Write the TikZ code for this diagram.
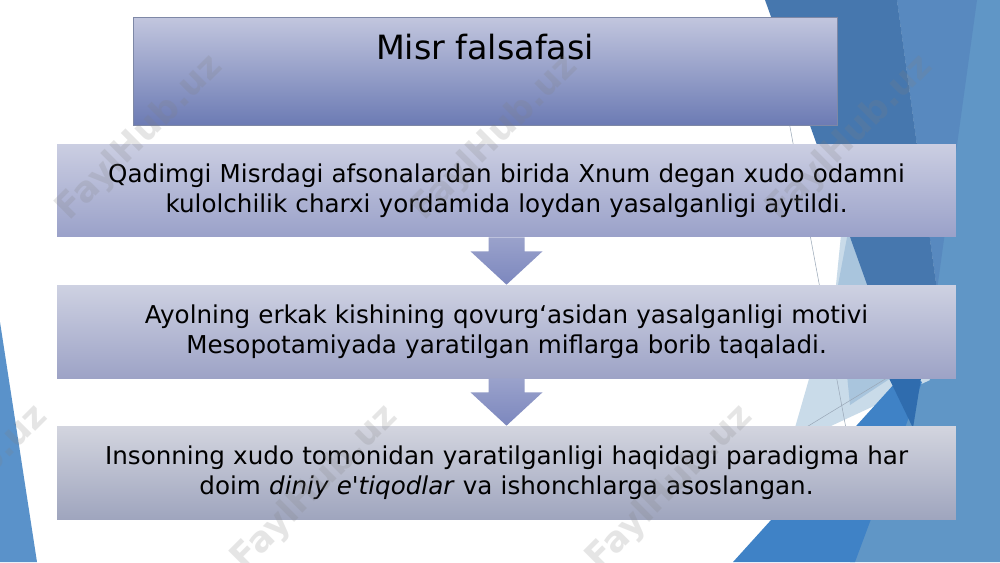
\documentclass[tikz,border=0pt]{standalone}
\usepackage{fontspec}
\setmainfont{DejaVu Sans}
\usetikzlibrary{calc}
\definecolor{dkblue}{HTML}{4677AE}
\definecolor{baseblue}{HTML}{6096C6}
\definecolor{vblue}{HTML}{5889BF}
\definecolor{brblue}{HTML}{3F82C6}
\definecolor{sblue}{HTML}{2F6CAE}
\definecolor{pale}{HTML}{C9DBE9}
\definecolor{midpale}{HTML}{A9C5DD}
\definecolor{leftblue}{HTML}{5A92CA}
\definecolor{thinline}{HTML}{9AA8B8}
\definecolor{ttop}{HTML}{C2C6DE}
\definecolor{tbot}{HTML}{6C7BB4}
\definecolor{tborder}{HTML}{7E88A6}
\definecolor{bAtop}{HTML}{CBCEE2}
\definecolor{bAbot}{HTML}{9AA1C9}
\definecolor{bBtop}{HTML}{CED1E2}
\definecolor{bBbot}{HTML}{9DA3C6}
\definecolor{bCtop}{HTML}{D3D5DF}
\definecolor{bCbot}{HTML}{9FA5BE}
\definecolor{atop}{HTML}{9AA2CB}
\definecolor{abot}{HTML}{7C87BE}
\tikzset{
  x=0.02cm, y=-0.02cm,
  bodyfont/.style={font=\fontsize{14}{17.07}\selectfont},
  stepbox/.style={rectangle, inner sep=0pt, minimum width=17.98cm, minimum height=1.86cm,
    text width=17.5cm, align=center, text=black, bodyfont},
  titlebox/.style={rectangle, draw=tborder, line width=0.5pt, inner sep=0pt,
    minimum width=14.08cm, minimum height=2.16cm, top color=ttop, bottom color=tbot},
  downarrow/.style={top color=atop, bottom color=abot},
  wm/.style={font=\bfseries\fontsize{20}{20}\selectfont, text=gray, opacity=0.2, rotate=45}
}
\begin{document}
\begin{tikzpicture}
\useasboundingbox (0,0) rectangle (1000,562);
\fill[white] (0,0) rectangle (1000,562);
% background decoration
\fill[baseblue] (897,0) -- (1000,0) -- (1000,562) -- (850,562) -- (922,380) -- (937,290) -- cycle;
\fill[vblue] (897,0) -- (977,0) -- (937,290) -- cycle;
\fill[pale] (843,215) -- (930,380) -- (790,445) -- (836,285) -- cycle;
\fill[midpale] (848,232) -- (900,372) -- (850,405) -- (838,285) -- cycle;
\fill[dkblue] (765,0) -- (897,0) -- (937,290) -- (912,410) -- cycle;
\fill[brblue] (733,562) -- (905,372) -- (922,382) -- (855,562) -- cycle;
\fill[sblue] (886,372) -- (922,372) -- (913,428) -- cycle;
\draw[thinline, line width=0.3pt] (785,100) -- (850,450);
\draw[thinline, line width=0.3pt] (800,431) -- (900,370);
\fill[leftblue] (0,322) -- (37,562) -- (0,562) -- cycle;
% title
\node[titlebox] (title) at (485,71) {};
\node[font=\fontsize{19}{22}\selectfont] (titletext) at (485,47) {Misr falsafasi};
% steps
\node[stepbox, top color=bAtop, bottom color=bAbot] (b1) at (506.5,190.5)
  {Qadimgi Misrdagi afsonalardan birida Xnum degan xudo odamni\\kulolchilik charxi yordamida loydan yasalganligi aytildi.};
\node[stepbox, top color=bBtop, bottom color=bBbot] (b2) at (506.5,331.5)
  {Ayolning erkak kishining qovurg‘asidan yasalganligi motivi\\Mesopotamiyada yaratilgan miflarga borib taqaladi.};
\node[stepbox, top color=bCtop, bottom color=bCbot] (b3) at (506.5,472.5)
  {Insonning xudo tomonidan yaratilganligi haqidagi paradigma har\\doim \textit{diniy e\textquotesingle tiqodlar} va ishonchlarga asoslangan.};
% arrows
\shade[downarrow] ($(b1.south)+(-18,0)$) -- ($(b1.south)+(18,0)$) -- ($(b1.south)+(18,14)$) -- ($(b1.south)+(36,14)$) -- (b2.north) -- ($(b1.south)+(-36,14)$) -- ($(b1.south)+(-18,14)$) -- cycle;
\shade[downarrow] ($(b2.south)+(-18,0)$) -- ($(b2.south)+(18,0)$) -- ($(b2.south)+(18,14)$) -- ($(b2.south)+(36,14)$) -- (b3.north) -- ($(b2.south)+(-36,14)$) -- ($(b2.south)+(-18,14)$) -- cycle;
% watermarks
\node[wm] (wm1) at (140,138) {FaylHub.uz};
\node[wm] (wm2) at (495,138) {FaylHub.uz};
\node[wm] (wm3) at (850,138) {FaylHub.uz};
\node[wm] (wm4) at (-35,488) {FaylHub.uz};
\node[wm] (wm5) at (315,488) {FaylHub.uz};
\node[wm] (wm6) at (670,488) {FaylHub.uz};
\end{tikzpicture}
\end{document}
